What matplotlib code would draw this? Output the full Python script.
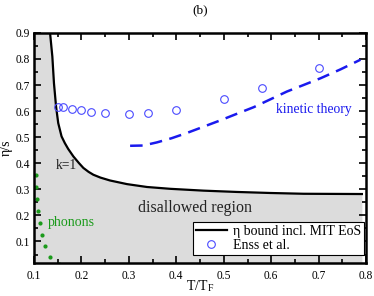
import matplotlib
matplotlib.use("Agg")
import matplotlib.pyplot as plt
import numpy as np

plt.rcParams['font.family'] = ['Liberation Serif', 'DejaVu Serif']
plt.rcParams['mathtext.fontset'] = 'stix'

# bound curve (eta bound incl. MIT EoS)
bound_x = [0.1338, 0.1386, 0.142, 0.1464, 0.151, 0.158, 0.165, 0.172, 0.183, 0.195, 0.204, 0.215, 0.225,
           0.240, 0.260, 0.296, 0.338, 0.387, 0.457, 0.527, 0.598, 0.668, 0.791]
bound_y = [0.899, 0.809, 0.707, 0.618, 0.554, 0.503, 0.477, 0.455, 0.426, 0.400, 0.382, 0.367, 0.356,
           0.345, 0.334, 0.320, 0.309, 0.302, 0.295, 0.290, 0.286, 0.283, 0.282]

# Enss et al.
enss_x = [0.15, 0.16, 0.18, 0.20, 0.22, 0.25, 0.30, 0.34, 0.40, 0.50, 0.58, 0.70]
enss_y = [0.615, 0.614, 0.609, 0.606, 0.598, 0.592, 0.590, 0.592, 0.605, 0.646, 0.688, 0.765]

# kinetic theory
kin_x = [0.3025, 0.33, 0.359, 0.39, 0.422, 0.457, 0.492, 0.528, 0.563, 0.598, 0.633, 0.668, 0.704, 0.746, 0.788]
kin_y = [0.467, 0.468, 0.480, 0.496, 0.516, 0.540, 0.564, 0.590, 0.615, 0.645, 0.675, 0.700, 0.726, 0.760, 0.797]

# phonons
ph_x = [0.1036, 0.104, 0.106, 0.109, 0.112, 0.116, 0.123, 0.134, 0.153]
ph_y = [0.356, 0.309, 0.263, 0.218, 0.171, 0.126, 0.081, 0.042, 0.015]

fig = plt.figure(figsize=(3.74, 2.96), dpi=100)
ax = fig.add_axes([0.091, 0.111, 0.888, 0.778])

fill_x = [0.1] + bound_x
fill_y = [0.9] + bound_y
ax.fill_between(fill_x, fill_y, 0, color='#dcdcdc', lw=0)

ax.plot(bound_x, bound_y, color='black', lw=1.6, label='η bound incl. MIT EoS')
ax.plot(kin_x, kin_y, color='#1a1aee', lw=1.8, ls=(0, (5, 3)))
ax.plot(enss_x, enss_y, ls='none', marker='o', ms=5.5, mfc='none', mec='#4a4aff', mew=0.8, label='Enss et al.')
ax.plot(ph_x, ph_y, ls='none', marker='o', ms=2.0, color='#1a9a1a', clip_on=True)

ax.text(0.169, 0.392, 'k=1', fontsize=9.8, ha='center', va='center', color='#222222')
ax.text(0.13, 0.173, 'phonons', fontsize=10, ha='left', va='center', color='#1a9a1a')
ax.text(0.44, 0.228, 'disallowed region', fontsize=11.5, ha='center', va='center', color='#222222')
ax.text(0.689, 0.605, 'kinetic theory', fontsize=9.8, ha='center', va='center', color='#1a1aee')

ax.set_xlim(0.1, 0.8)
ax.set_ylim(0.017, 0.9)
ax.set_xticks(np.arange(0.1, 0.81, 0.1))
ax.set_xticklabels([f'{v:.1f}' for v in np.arange(0.1, 0.81, 0.1)])
ax.set_yticks(np.arange(0.1, 0.91, 0.1))
ax.set_yticklabels([f'{v:.1f}' for v in np.arange(0.1, 0.91, 0.1)])
ax.set_xticks(np.arange(0.15, 0.8, 0.1), minor=True)
ax.set_yticks(np.arange(0.05, 0.9, 0.1), minor=True)
ax.tick_params(which='both', direction='in', top=True, right=True, labelsize=8.3, width=1.2)
ax.tick_params(axis='x', which='major', pad=5)
ax.tick_params(axis='y', which='major', pad=3)
ax.tick_params(which='major', length=5)
ax.tick_params(which='minor', length=3)
for s in ax.spines.values():
    s.set_linewidth(1.8)

ax.set_xlabel(r'T/T$_\mathregular{F}$', fontsize=10, labelpad=-2.5)
ax.set_ylabel('η/s', fontsize=10, labelpad=2)
ax.set_title('(b)', fontsize=9.5, pad=14)

leg = ax.legend(loc='lower right', bbox_to_anchor=(0.995, 0.035), fontsize=10, frameon=True,
                fancybox=False, edgecolor='black', framealpha=1, borderpad=0.2,
                handlelength=2.2, handletextpad=0.5, labelspacing=0.1, borderaxespad=0)
leg.get_frame().set_linewidth(0.8)

fig.savefig('out.png', dpi=100)
